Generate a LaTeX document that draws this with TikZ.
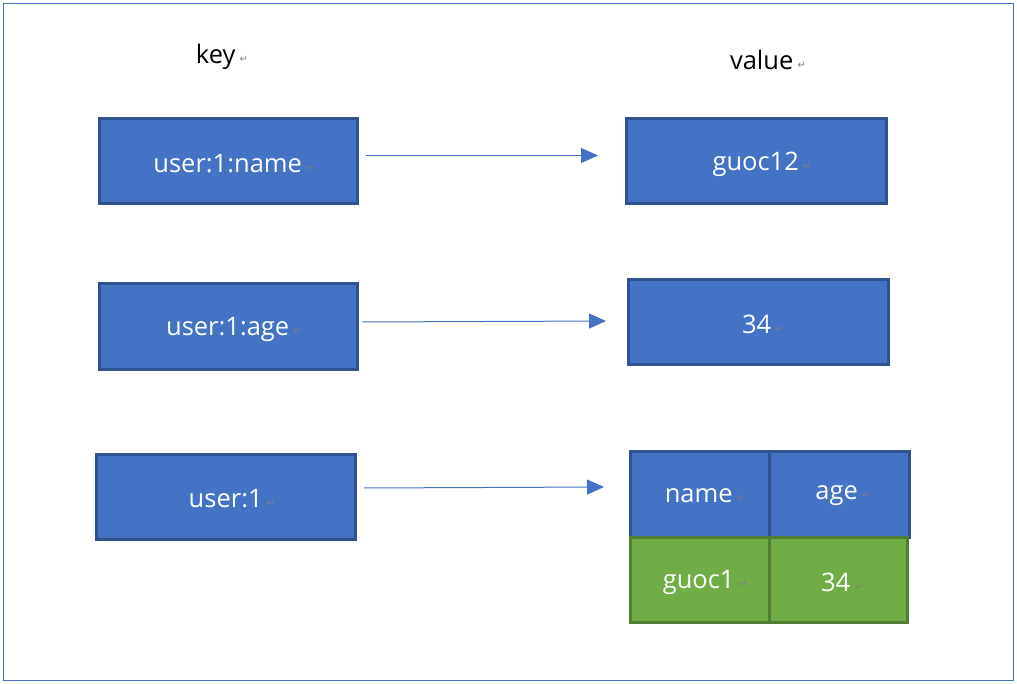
\documentclass[tikz,border=0pt]{standalone}
\usepackage{fontspec}
\setmainfont{Open Sans}
\newfontfamily\markfont{DejaVu Sans}
\usetikzlibrary{arrows.meta}
\definecolor{boxblue}{HTML}{4472C4}
\definecolor{boxblueedge}{HTML}{2F528F}
\definecolor{boxgreen}{HTML}{70AD47}
\definecolor{boxgreenedge}{HTML}{507E32}
\definecolor{framecol}{HTML}{4472C4}
\newcommand{\retmk}{\,{\markfont\fontsize{10pt}{10pt}\selectfont\color{gray}\raisebox{1pt}{↵}}}
\tikzset{
  bluebox/.style={draw=boxblueedge, fill=boxblue, line width=3pt},
  greenbox/.style={draw=boxgreenedge, fill=boxgreen, line width=3pt},
  boxtext/.style={text=white, inner sep=0pt, font=\fontsize{25.5pt}{28pt}\selectfont},
  header/.style={text=black, font=\fontsize{25.5pt}{28pt}\selectfont, inner sep=0pt},
  link/.style={draw=boxblue, line width=1pt, -{Triangle[length=17pt,width=15pt]}}
}
\begin{document}
\begin{tikzpicture}[x=1pt,y=-1pt]
\useasboundingbox (0,0) rectangle (1017,684);
\draw[framecol, line width=1pt] (3.5,3.5) rectangle (1013,680);
\node[header] (k) at (222,57) {key\retmk};
\node[header] (v) at (768,60) {value\retmk};
% keys
\path[bluebox] (99,119) rectangle (357,204);
\node[boxtext] (k1) at (234,164) {user:1:name\retmk};
\coordinate (k1e) at (366,155.5);
\path[bluebox] (99,284) rectangle (357,370);
\node[boxtext] (k2) at (234,329) {user:1:age\retmk};
\coordinate (k2e) at (362,322);
\path[bluebox] (96,454) rectangle (355,539);
\node[boxtext] (k3) at (232,499) {user:1\retmk};
\coordinate (k3e) at (364,488);
% values
\path[bluebox] (626,119) rectangle (886,204);
\node[boxtext] (v1) at (762,164) {guoc12\retmk};
\coordinate (v1s) at (598,155.5);
\path[bluebox] (628,280) rectangle (888,365);
\node[boxtext] (v2) at (763,324) {34\retmk};
\coordinate (v2s) at (606,321);
% hash table
\path[bluebox] (630,451) rectangle (769,537);
\path[bluebox] (769,451) rectangle (909,537);
\path[greenbox] (630,537) rectangle (769,622);
\path[greenbox] (769,537) rectangle (907,622);
\node[boxtext] (h1) at (705,496) {name\retmk};
\node[boxtext] (h2) at (843,496) {age\retmk};
\node[boxtext] (h3) at (705,582) {guoc1\retmk};
\node[boxtext] (h4) at (842,582) {34\retmk};
\coordinate (v3s) at (604,487);
% arrows
\draw[link] (k1e) -- (v1s);
\draw[link] (k2e) -- (v2s);
\draw[link] (k3e) -- (v3s);
\end{tikzpicture}
\end{document}
